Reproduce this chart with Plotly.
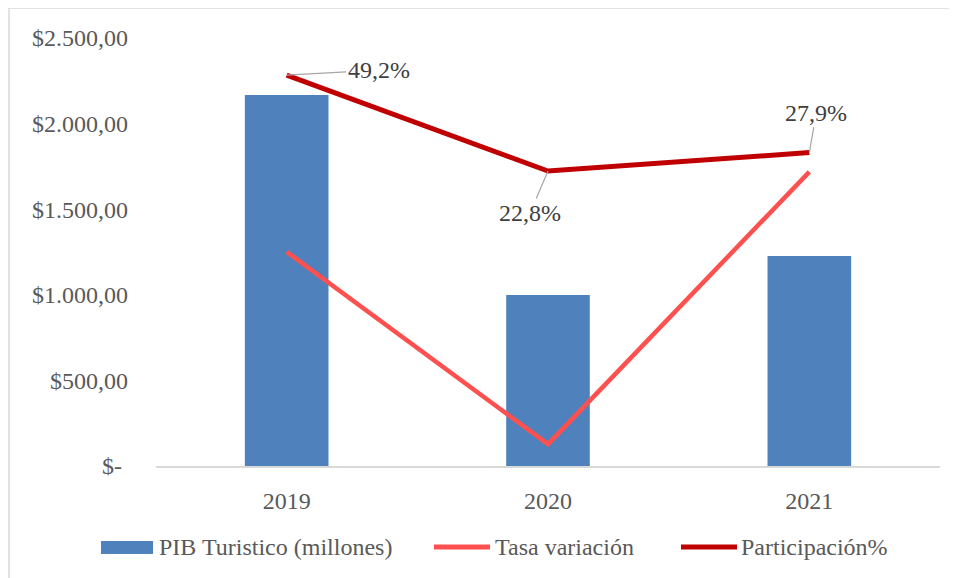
import plotly.graph_objects as go

years = ["2019", "2020", "2021"]
pib = [2167, 999, 1227]
tasa = [0.6, -52.3, 22.6]
participacion = [49.2, 22.8, 27.9]
part_labels = ["49,2%", "22,8%", "27,9%"]
ytick_vals = [0, 500, 1000, 1500, 2000, 2500]
ytick_text = ["$-\u00a0", "$500,00", "$1.000,00", "$1.500,00", "$2.000,00", "$2.500,00"]
series_names = ["PIB Turistico (millones)", "Tasa variación", "Participación%"]
series_colors = ["#4F81BD", "#FF5050", "#C00000"]

FONT = "Liberation Serif, Times New Roman, serif"
FS = 24
W, H = 957, 578
OFF = 8  # page body margin
L, R, T, B = 148, 25, 30, 120
pw = W - L - R
ph = H - T - B


def px(x_img):
    return (x_img - OFF - L) / pw


def py(y_img):
    return 1 - (y_img - OFF - T) / ph


fig = go.Figure()
fig.add_trace(go.Bar(x=years, y=pib, name=series_names[0],
                     marker=dict(color=series_colors[0], line=dict(width=0))))
fig.add_trace(go.Scatter(x=years, y=tasa, name=series_names[1], yaxis="y2",
                         mode="lines", line=dict(color=series_colors[1], width=4.5)))
fig.add_trace(go.Scatter(x=years, y=participacion, name=series_names[2], yaxis="y2",
                         mode="lines", line=dict(color=series_colors[2], width=5)))

offsets = [(92, -5), (-18, 42), (7, -40)]
for i, (yv, txt, (ax, ay)) in enumerate(zip(participacion, part_labels, offsets)):
    fig.add_annotation(x=i, y=yv, yref="y2", text=txt, showarrow=True,
                       arrowhead=0, arrowcolor="#A6A6A6", arrowwidth=1.2,
                       ax=ax, ay=ay, standoff=0,
                       font=dict(family=FONT, size=FS, color="#404040"))

# chart border
fig.add_shape(type="rect", xref="paper", yref="paper",
              x0=px(9), x1=px(1000), y0=py(620), y1=py(8),
              line=dict(color="#D9D9D9", width=1.5), layer="below")

# custom legend
leg_y = 547
fig.add_shape(type="rect", xref="paper", yref="paper",
              x0=px(101), x1=px(153), y0=py(554), y1=py(541),
              fillcolor=series_colors[0], line=dict(width=0))
fig.add_shape(type="line", xref="paper", yref="paper",
              x0=px(434), x1=px(490), y0=py(leg_y), y1=py(leg_y),
              line=dict(color=series_colors[1], width=5))
fig.add_shape(type="line", xref="paper", yref="paper",
              x0=px(681), x1=px(737), y0=py(leg_y), y1=py(leg_y),
              line=dict(color=series_colors[2], width=5))
for name, xt in zip(series_names, [157, 493, 739]):
    fig.add_annotation(xref="paper", yref="paper", x=px(xt), y=py(leg_y),
                       text=name, showarrow=False, xanchor="left", yanchor="middle",
                       font=dict(family=FONT, size=FS, color="#595959"))

fig.update_layout(
    width=W, height=H,
    margin=dict(l=L, r=R, t=T, b=B),
    paper_bgcolor="white", plot_bgcolor="white",
    font=dict(family=FONT, size=FS, color="#595959"),
    bargap=0.68,
    showlegend=False,
    xaxis=dict(type="category", range=[-0.5, 2.5], showline=True,
               linecolor="#D9D9D9", linewidth=1.5,
               showgrid=False, ticks="", ticklabelstandoff=12,
               tickfont=dict(family=FONT, size=FS, color="#595959")),
    yaxis=dict(range=[0, 2500], tickvals=ytick_vals, ticktext=ytick_text,
               showgrid=False, zeroline=False, showline=False, ticks="",
               ticklabelstandoff=27,
               tickfont=dict(family=FONT, size=FS, color="#595959")),
    yaxis2=dict(overlaying="y", side="right", range=[-58.3, 59.4],
                visible=False, showgrid=False, zeroline=False),
)

fig.write_html("out.html")
